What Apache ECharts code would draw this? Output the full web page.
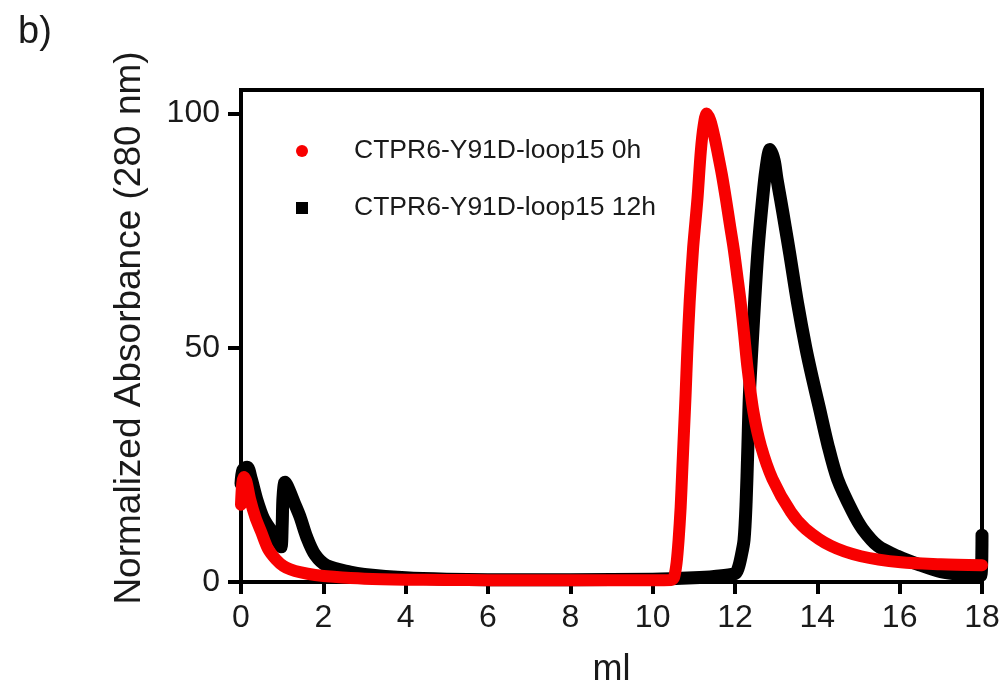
<!DOCTYPE html>
<html>
<head>
<meta charset="utf-8">
<script src="https://cdn.jsdelivr.net/npm/echarts@6/dist/echarts.min.js"></script>
<style>
html,body{margin:0;padding:0;background:#fff;}
#c{width:1006px;height:693px;}
</style>
</head>
<body>
<div id="c"></div>
<script>
// ---- data ----
var seriesNames = ['CTPR6-Y91D-loop15 0h', 'CTPR6-Y91D-loop15 12h'];
var xTicks = [0, 2, 4, 6, 8, 10, 12, 14, 16, 18];
var yTicks = [0, 50, 100];

var redX = [0, 0.03, 0.07, 0.13, 0.22, 0.35, 0.49, 0.66, 0.85, 1.03, 1.2, 1.43, 1.8, 2.25, 3, 4, 5, 6, 7, 8, 9, 10, 10.45,
  10.52, 10.58, 10.63, 10.68, 10.72, 10.76, 10.8, 10.84, 10.9, 10.98, 11.04, 11.09, 11.17, 11.24, 11.31, 11.4, 11.5, 11.57,
  11.68, 11.78, 11.88, 11.97, 12.06, 12.14, 12.22, 12.3, 12.45, 12.63, 12.91, 13.36, 13.72, 14.33, 15.06, 16.03, 17.0, 18.0];
var redY = [16.5, 21, 22.4, 21.5, 17.7, 13.8, 10.7, 7, 4.8, 3.4, 2.7, 2.1, 1.5, 1.1, 0.7, 0.5, 0.45, 0.4, 0.4, 0.35, 0.35, 0.35, 0.4,
  1, 4, 9, 16, 24, 32, 40, 49, 60, 71, 77, 82, 92, 97.5, 100, 98.5, 95, 92,
  87, 81.7, 76, 71, 65, 59.5, 53, 46, 36.2, 29, 22, 14.9, 11.3, 7.7, 5.5, 4.2, 3.8, 3.6];

var blackX = [0, 0.05, 0.15, 0.25, 0.38, 0.55, 0.75, 0.9, 0.97, 1.0, 1.02, 1.07, 1.15, 1.29, 1.43, 1.6, 1.8, 2.08, 2.65, 3.0, 4, 5, 6, 8,
  10, 11, 11.5, 12.0, 12.08, 12.15, 12.22, 12.27, 12.31, 12.35, 12.41, 12.48, 12.56, 12.67, 12.75, 12.85, 12.95, 13.02, 13.11,
  13.22, 13.33, 13.52, 13.72, 13.88, 14.04, 14.25, 14.49, 14.86, 15.1, 15.47, 15.95, 16.5, 17.0, 17.5, 17.97, 18.0];
var blackY = [21, 24, 24.5, 22, 17.7, 13.5, 10.7, 8.5, 7.5, 12, 18, 21.3, 20, 17, 14, 9.5, 5.8, 3.5, 2.1, 1.6, 0.9, 0.6, 0.5, 0.5,
  0.6, 0.9, 1.2, 1.8, 3, 5.5, 9, 17, 28, 40, 49.7, 60.3, 71, 81.7, 88, 92.3, 90, 86, 81.5,
  75.8, 70, 59.5, 50, 43.5, 37.5, 29.5, 22, 14.9, 11.3, 7.7, 5.5, 3.6, 2.2, 1.6, 1.4, 10];

function zip(xs, ys) { return xs.map(function (x, i) { return [x, ys[i]]; }); }

var FONT = '"Liberation Sans", Arial, sans-serif';
var RED = '#f80000';
var chart = echarts.init(document.getElementById('c'), null, { renderer: 'canvas' });
chart.setOption({
  animation: false,
  backgroundColor: '#fff',
  title: {
    text: 'b)', left: 13, top: 9,
    textStyle: { fontFamily: FONT, fontSize: 38, fontWeight: 'normal', color: '#1a1a1a' }
  },
  grid: {
    left: 241, right: 24, top: 90, bottom: 110,
    show: true, borderColor: '#000', borderWidth: 4, backgroundColor: 'transparent'
  },
  legend: {
    orient: 'vertical', left: 291, top: 131,
    itemWidth: 12, itemHeight: 12, itemGap: 27,
    data: [{ name: seriesNames[0], icon: 'circle' }, { name: seriesNames[1], icon: 'rect' }],
    textStyle: { fontFamily: FONT, fontSize: 26.5, color: '#1a1a1a', lineHeight: 30, padding: [0, 0, 0, 41] }
  },
  xAxis: {
    type: 'value', min: 0, max: 18, interval: 2,
    name: 'ml', nameLocation: 'middle', nameGap: 70,
    nameTextStyle: { fontFamily: FONT, fontSize: 36, color: '#1a1a1a' },
    axisLine: { show: true, onZero: false, lineStyle: { color: '#000', width: 4 } },
    axisTick: { show: true, inside: false, length: 12, lineStyle: { color: '#000', width: 4 }, customValues: xTicks },
    axisLabel: { fontFamily: FONT, fontSize: 32, color: '#1a1a1a', margin: 20, customValues: xTicks },
    splitLine: { show: false }
  },
  yAxis: {
    type: 'value', min: 0, max: 105,
    name: 'Normalized Absorbance (280 nm)', nameLocation: 'middle', nameGap: 93,
    nameTextStyle: { fontFamily: FONT, fontSize: 37, color: '#1a1a1a', padding: [0, 0, 0, 16] },
    axisLine: { show: true, lineStyle: { color: '#000', width: 4 } },
    axisTick: { show: true, inside: false, length: 13, lineStyle: { color: '#000', width: 4 }, customValues: yTicks },
    axisLabel: { fontFamily: FONT, fontSize: 32, color: '#1a1a1a', margin: 21, customValues: yTicks },
    splitLine: { show: false }
  },
  series: [
    {
      name: seriesNames[1], type: 'line', data: zip(blackX, blackY),
      showSymbol: false, clip: false, smooth: 0.3,
      color: '#000',
      lineStyle: { color: '#000', width: 13, cap: 'round', join: 'round' },
      itemStyle: { color: '#000' }, z: 3
    },
    {
      name: seriesNames[0], type: 'line', data: zip(redX, redY),
      showSymbol: false, clip: false, smooth: 0.3,
      color: RED,
      lineStyle: { color: RED, width: 12, cap: 'round', join: 'round' },
      itemStyle: { color: RED }, z: 4
    }
  ]
});
</script>
</body>
</html>
